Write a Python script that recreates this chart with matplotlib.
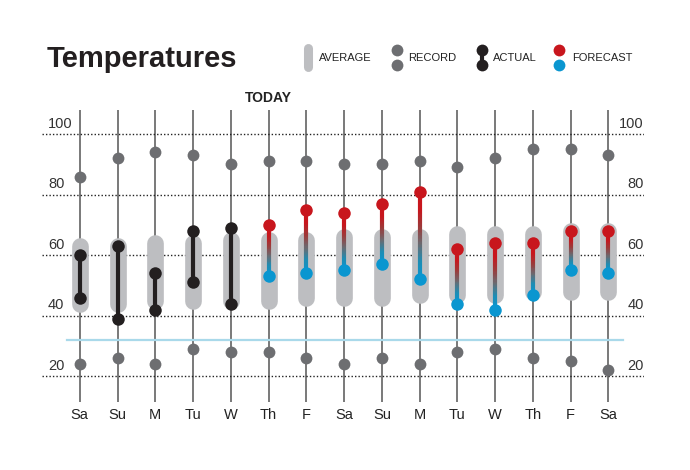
import matplotlib.pyplot as plt
import numpy as np
from matplotlib.collections import LineCollection
from matplotlib.colors import LinearSegmentedColormap

plt.rcParams['font.family'] = ['Liberation Sans Narrow', 'Liberation Sans', 'DejaVu Sans']

# data
days = ['Sa', 'Su', 'M', 'Tu', 'W', 'Th', 'F', 'Sa', 'Su', 'M', 'Tu', 'W', 'Th', 'F', 'Sa']
rec_hi = [86, 92, 94, 93, 90, 91, 91, 90, 90, 91, 89, 92, 95, 95, 93]
rec_lo = [24, 26, 24, 29, 28, 28, 26, 24, 26, 24, 28, 29, 26, 25, 22]
avg_hi = [63, 63, 64, 64, 65, 65, 65, 66, 66, 66, 67, 67, 67, 68, 68]
avg_lo = [44, 44, 45, 45, 45, 45, 46, 46, 46, 47, 47, 47, 48, 48, 48]
act_hi = [60, 63, 54, 68, 69]
act_lo = [46, 39, 42, 51, 44]
fc_hi = [70, 75, 74, 77, 81, 62, 64, 64, 68, 68]
fc_lo = [53, 54, 55, 57, 52, 44, 42, 47, 55, 54]
freezing = 32
grid_vals = [20, 40, 60, 80, 100]

c_avg = '#bdbec1'
c_rec = '#6d6e71'
c_act = '#231f20'
c_red = '#c8161d'
c_blue = '#0a96d0'
grad = LinearSegmentedColormap.from_list('fc', [c_red, c_red, '#9c3a3a', '#6a6a70', '#1d8db4', c_blue])

fig = plt.figure(figsize=(6.9, 4.7), dpi=100)
ax = fig.add_axes([42/690, 1-402/470, 602/690, 292/470])
x = np.arange(len(days))
ax.set_xlim(-1.0, 14.94)
ax.set_ylim(11.5, 108)

# vertical day lines and dotted grid
ax.vlines(x, 11.5, 108, color='#555555', lw=1.1, zorder=1)
for g in grid_vals:
    ax.axhline(g, color='#222222', lw=1.0, ls=(0, (1, 1.5)), zorder=1)
    ax.text(-0.84, g + 1.2, str(g), ha='left', va='bottom', fontsize=10.5, color='#333333')
    ax.text(14.94, g + 1.2, str(g), ha='right', va='bottom', fontsize=10.5, color='#333333')

# average pills
for i in x:
    ax.plot([i, i], [avg_lo[i], avg_hi[i]], color=c_avg, lw=12, solid_capstyle='round', zorder=2)

# freezing line
ax.plot([-0.34, 14.38], [freezing, freezing], color='#a9d9ea', lw=1.6, zorder=3)

# records
ax.plot(x, rec_hi, 'o', color=c_rec, ms=8.5, mec='none', zorder=4)
ax.plot(x, rec_lo, 'o', color=c_rec, ms=8.5, mec='none', zorder=4)

# actual
xa = x[:len(act_hi)]
ax.vlines(xa, act_lo, act_hi, color=c_act, lw=3, zorder=4)
ax.plot(xa, act_hi, 'o', color=c_act, ms=9, mec='none', zorder=5)
ax.plot(xa, act_lo, 'o', color=c_act, ms=9, mec='none', zorder=5)

# forecast with gradient line
xf = x[len(act_hi):]
for xi, hi, lo in zip(xf, fc_hi, fc_lo):
    ys = np.linspace(hi, lo, 60)
    segs = [[(xi, ys[k]), (xi, ys[k+1])] for k in range(len(ys)-1)]
    lc = LineCollection(segs, colors=grad(np.linspace(0, 1, len(segs))), lw=3, zorder=4)
    ax.add_collection(lc)
ax.plot(xf, fc_hi, 'o', color=c_red, ms=9, mec='none', zorder=5)
ax.plot(xf, fc_lo, 'o', color=c_blue, ms=9, mec='none', zorder=5)

ax.set_xticks(x)
ax.set_xticklabels(days, fontsize=10.5, color='#222222')
ax.tick_params(axis='x', length=0, pad=4)
ax.set_yticks([])
for s in ax.spines.values():
    s.set_visible(False)

ax.text(5, 109.5, 'TODAY', ha='center', va='bottom', fontsize=10, fontweight='bold', color='#222222')

# header: title + legend in pixel coordinates
lay = fig.add_axes([0, 0, 1, 1], zorder=10)
lay.set_xlim(0, 690)
lay.set_ylim(470, 0)
lay.axis('off')
lay.text(47, 67, 'Temperatures', fontsize=21, fontweight='bold', color='#231f20', ha='left', va='baseline',
         family=['Liberation Sans', 'DejaVu Sans'])
lay.plot([308, 308], [48, 67], color=c_avg, lw=6.5, solid_capstyle='round')
lay.text(319, 58, 'AVERAGE', fontsize=8, va='center', color='#222222')
lay.plot([397, 397], [49.5, 64.5], 'o', color=c_rec, ms=8.5, mec='none')
lay.text(408, 58, 'RECORD', fontsize=8, va='center', color='#222222')
lay.plot([482, 482], [49.5, 64.5], color=c_act, lw=3)
lay.plot([482, 482], [49.5, 64.5], 'o', color=c_act, ms=8.5, mec='none')
lay.text(493, 58, 'ACTUAL', fontsize=8, va='center', color='#222222')
lay.plot([559], [49.5], 'o', color=c_red, ms=8.5, mec='none')
lay.plot([559], [64.5], 'o', color=c_blue, ms=8.5, mec='none')
lay.text(572, 58, 'FORECAST', fontsize=8, va='center', color='#222222')

fig.savefig('out.png', dpi=100)
